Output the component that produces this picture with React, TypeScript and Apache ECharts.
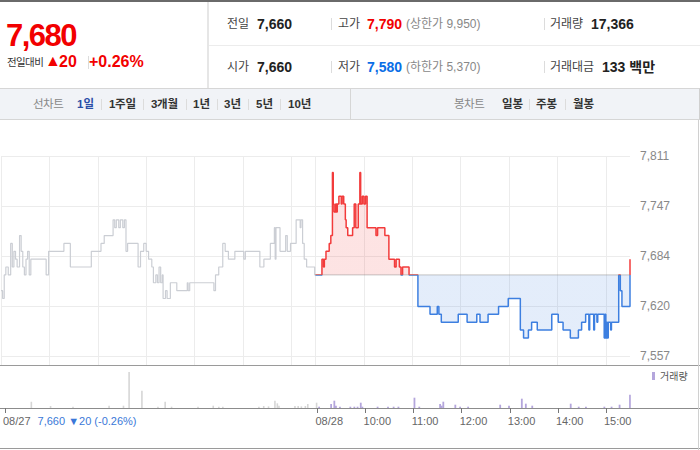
import React, { useEffect, useRef } from 'react';
import * as echarts from 'echarts';

const FONT = '"Liberation Sans", "Noto Sans CJK KR", sans-serif';

const PREV_CLOSE = 7660;
const LOWER_LIMIT = 5370;
const UPPER_LIMIT = 9950;
const Y_MIN = 7557;
const Y_MAX = 7811;
const Y_STEP = 63.5;
const MINUTES = 780; // 08/27 09:00 .. 08/28 15:30, two 390-minute sessions
const TODAY_START = 390;

// [minute index, price] — price holds until the next point
const PREV_DAY_PRICE: [number, number][] = [
  [0, 7640], [2, 7630], [4, 7660], [6, 7670], [9, 7660], [12, 7700], [14, 7670], [16, 7690],
  [18, 7680], [20, 7670], [23, 7710], [25, 7690], [27, 7670], [29, 7660], [31, 7680], [33, 7690],
  [35, 7660], [37, 7680], [56, 7660], [59, 7690], [78, 7700], [86, 7670], [112, 7690], [124, 7700],
  [128, 7710], [139, 7730], [141, 7720], [143, 7730], [146, 7720], [148, 7730], [151, 7720], [153, 7730],
  [155, 7690], [157, 7700], [170, 7670], [173, 7690], [177, 7700], [180, 7690], [183, 7680], [187, 7670],
  [189, 7650], [192, 7660], [194, 7650], [196, 7670], [198, 7650], [200, 7660], [201, 7630], [204, 7640],
  [206, 7630], [210, 7650], [218, 7640], [231, 7650], [232, 7640], [234, 7650], [264, 7640], [266, 7660],
  [270, 7670], [275, 7700], [278, 7690], [282, 7680], [290, 7690], [301, 7680], [303, 7690], [321, 7670],
  [326, 7680], [334, 7700], [339, 7720], [340, 7680], [341, 7720], [346, 7690], [353, 7710], [355, 7690],
  [359, 7700], [366, 7730], [371, 7720], [372, 7730], [374, 7700], [376, 7680], [379, 7670], [389, 7660],
  [390, 7660],
];

const TODAY_PRICE: [number, number][] = [
  [390, 7660], [398, 7680], [400, 7670], [401, 7680], [403, 7690], [407, 7700], [409, 7710], [411, 7790],
  [412, 7750], [413, 7740], [415, 7750], [416, 7740], [417, 7750], [419, 7760], [422, 7750], [423, 7760],
  [425, 7750], [427, 7730], [428, 7720], [430, 7710], [436, 7720], [438, 7750], [440, 7720], [443, 7750],
  [445, 7790], [446, 7750], [448, 7760], [450, 7750], [452, 7760], [454, 7720], [465, 7710], [467, 7720],
  [476, 7710], [481, 7680], [488, 7670], [490, 7680], [494, 7670], [496, 7660], [498, 7670], [506, 7660],
  [517, 7620], [532, 7610], [541, 7620], [543, 7610], [546, 7600], [567, 7610], [578, 7600], [590, 7610],
  [594, 7600], [604, 7610], [617, 7620], [629, 7630], [644, 7590], [648, 7580], [654, 7590], [658, 7600],
  [665, 7590], [683, 7610], [691, 7600], [697, 7590], [706, 7580], [716, 7590], [720, 7600], [725, 7610],
  [729, 7590], [730, 7610], [735, 7590], [736, 7610], [739, 7600], [740, 7610], [748, 7580], [749, 7610],
  [750, 7580], [751, 7600], [752, 7580], [753, 7600], [756, 7590], [757, 7600], [766, 7660], [768, 7640],
  [770, 7620], [780, 7680],
];

const PREV_DAY_VOLUME: [number, number][] = [
  [33, 1000], [57, 320], [85, 210], [130, 370], [148, 370], [155, 5760], [171, 2770], [191, 210],
  [200, 1000], [208, 210], [241, 210], [260, 370], [267, 210], [272, 210], [317, 210], [323, 320],
  [329, 260], [337, 1170], [340, 750], [342, 370], [362, 320], [366, 320], [370, 260], [375, 320],
  [378, 640], [389, 850],
];

const TODAY_VOLUME: [number, number][] = [
  [392, 210], [407, 640], [411, 1170], [413, 370], [418, 210], [431, 210], [436, 210], [440, 210],
  [444, 850], [446, 210], [465, 210], [478, 210], [485, 210], [491, 210], [511, 1650], [517, 210],
  [543, 640], [545, 370], [547, 1010], [562, 530], [568, 210], [578, 210], [618, 530], [629, 370],
  [645, 1490], [650, 690], [658, 370], [706, 690], [716, 210], [725, 210], [748, 210], [757, 210],
  [767, 530], [780, 2130],
];

const VOLUME_MAX = 6720;

const TICK_INDEX = [0, 390, 450, 510, 570, 630, 690, 750];
const TICK_LABEL = ['08/27', '08/28', '10:00', '11:00', '12:00', '13:00', '14:00', '15:00'];
const GRID_INDEX = [0, 60, 120, 180, 240, 300, 360, 390, 450, 510, 570, 630, 690, 750];
const PREV_SUMMARY = '7,660 ▼20 (-0.26%)';

const CATEGORIES = Array.from({ length: MINUTES + 1 }, (_, i) => String(i));

const fmt = (v: number) => Math.floor(v + 1e-6).toLocaleString('en-US');

function buildOption(): any {
  const isTick = (i: number) => TICK_INDEX.indexOf(i) >= 0;
  const isGrid = (i: number) => GRID_INDEX.indexOf(i) >= 0;
  const baseX = { type: 'category', data: CATEGORIES, boundaryGap: false };
  return {
    animation: false,
    textStyle: { fontFamily: FONT },
    grid: [
      { left: 1, right: 70, top: 36, height: 200 },
      { left: 1, right: 70, top: 246, height: 42 },
      { left: 1, right: 70, top: 36, height: 209 },
    ],
    xAxis: [
      { ...baseX, gridIndex: 0, axisLine: { show: false }, axisTick: { show: false }, axisLabel: { show: false }, splitLine: { show: false } },
      {
        ...baseX, gridIndex: 1,
        axisLine: { show: false },
        axisTick: { show: true, interval: (i: number) => isTick(i), length: 5, lineStyle: { color: '#777' } },
        axisLabel: {
          show: true,
          interval: (i: number) => isTick(i),
          formatter: (_v: string, i: number) => {
            const k = TICK_INDEX.indexOf(i);
            if (k === 0) return TICK_LABEL[0] + ' {b|' + PREV_SUMMARY + '}';
            return k >= 0 ? TICK_LABEL[k] : '';
          },
          align: 'left',
          margin: 7,
          color: '#666',
          fontSize: 11,
          padding: [0, 0, 0, -2],
          rich: { b: { color: '#3a78d8', fontSize: 11, padding: [0, 0, 0, 4] } },
        },
        splitLine: { show: false },
      },
      {
        ...baseX, gridIndex: 2, axisLine: { show: false }, axisTick: { show: false }, axisLabel: { show: false },
        splitLine: { show: true, interval: (i: number) => isGrid(i), lineStyle: { color: '#ececec', width: 1 } },
      },
    ],
    yAxis: [
      {
        type: 'value', gridIndex: 0, position: 'right', min: Y_MIN, max: Y_MAX, interval: Y_STEP,
        axisLine: { show: false }, axisTick: { show: false },
        splitLine: { lineStyle: { color: '#ececec' } },
        axisLabel: { formatter: fmt, color: '#888', fontSize: 12, margin: 10 },
      },
      { type: 'value', gridIndex: 1, min: 0, max: VOLUME_MAX, show: false, splitLine: { show: false } },
      { type: 'value', gridIndex: 2, min: 0, max: 1, show: false, splitLine: { show: false } },
    ],
    visualMap: {
      show: false, type: 'piecewise', seriesIndex: 1, dimension: 1,
      pieces: [
        { gte: LOWER_LIMIT, lte: PREV_CLOSE, color: '#3d7fe0' },
        { gt: PREV_CLOSE, lte: UPPER_LIMIT, color: '#f23b3b' },
      ],
    },
    legend: {
      data: ['거래량'], left: 652, top: 251, padding: 0, icon: 'rect', itemWidth: 3, itemHeight: 8,
      selectedMode: false, textStyle: { fontSize: 10, color: '#555' },
    },
    series: [
      {
        name: '전일', type: 'line', xAxisIndex: 0, yAxisIndex: 0, data: PREV_DAY_PRICE, step: 'end',
        symbol: 'none', silent: true, lineStyle: { color: '#cbced4', width: 1.2 }, itemStyle: { color: '#cbced4' },
      },
      {
        name: '당일', type: 'line', xAxisIndex: 0, yAxisIndex: 0, data: TODAY_PRICE, step: 'end',
        symbol: 'none', silent: true, lineStyle: { width: 1.5 },
        areaStyle: { origin: PREV_CLOSE, opacity: 0.14 },
      },
      {
        name: '기준가', type: 'line', xAxisIndex: 0, yAxisIndex: 0,
        data: [[TODAY_START, PREV_CLOSE], [MINUTES, PREV_CLOSE]],
        symbol: 'none', silent: true, z: 3,
        lineStyle: { type: 'dotted', color: '#8a8a8a', width: 1 }, itemStyle: { color: '#8a8a8a' },
      },
      {
        name: '전일거래량', type: 'bar', xAxisIndex: 1, yAxisIndex: 1, data: PREV_DAY_VOLUME,
        barWidth: 1.6, barGap: '-100%', silent: true, itemStyle: { color: '#d6d6d6' },
      },
      {
        name: '거래량', type: 'bar', xAxisIndex: 1, yAxisIndex: 1, data: TODAY_VOLUME,
        barWidth: 1.8, barGap: '-100%', silent: true, itemStyle: { color: '#b4a6dc' },
      },
    ],
    graphic: [
      { type: 'line', silent: true, shape: { x1: 0, y1: 245.5, x2: 700, y2: 245.5 }, style: { stroke: '#9a9a9a', lineWidth: 1 } },
      { type: 'line', silent: true, shape: { x1: 0, y1: 288.5, x2: 700, y2: 288.5 }, style: { stroke: '#8c8c8c', lineWidth: 1 } },
      { type: 'line', silent: true, shape: { x1: 0, y1: 328.5, x2: 700, y2: 328.5 }, style: { stroke: '#9a9a9a', lineWidth: 1 } },
      { type: 'line', silent: true, shape: { x1: 698.5, y1: 0, x2: 698.5, y2: 330 }, style: { stroke: '#d0d0d0', lineWidth: 1 } },
    ],
  };
}

type TP = { x: number; y: number; size?: number; color?: string; bold?: boolean; ls?: number; children: React.ReactNode };
const T = ({ x, y, size = 12, color = '#555', bold = false, ls = 0, children }: TP) => (
  <span style={{
    position: 'absolute', left: x, top: y - 10, height: 20, lineHeight: '20px', fontSize: size, color,
    fontWeight: bold ? 700 : 400, whiteSpace: 'nowrap', letterSpacing: ls,
  }}>{children}</span>
);
const Sep = ({ x, y, h = 12 }: { x: number; y: number; h?: number }) => (
  <div style={{ position: 'absolute', left: x, top: y - h / 2, width: 1, height: h, background: '#dcdcdc' }} />
);

export default function App() {
  const ref = useRef<HTMLDivElement>(null);
  useEffect(() => {
    document.body.style.margin = '0';
    const chart = echarts.init(ref.current as HTMLDivElement, null, { renderer: 'svg' });
    chart.setOption(buildOption());
    return () => chart.dispose();
  }, []);

  const RED = '#f20000';
  const BLUE = '#0a6ee6';
  const R1 = 24;
  const R2 = 67;
  const TB = 104;

  return (
    <div style={{ position: 'relative', width: 700, height: 450, overflow: 'hidden', background: '#fff', fontFamily: FONT }}>
      <div style={{ position: 'absolute', left: 0, top: 0, width: 700, height: 2, background: '#6a6a6a' }} />
      <span style={{
        position: 'absolute', left: 6, top: 20, fontSize: 31, lineHeight: '31px', fontWeight: 700,
        color: RED, letterSpacing: -1.5, whiteSpace: 'nowrap',
      }}>7,680</span>
      <T x={7} y={62} size={10.5} color="#333" ls={-0.6}>전일대비</T>
      <T x={45} y={61} size={16} color={RED} ls={-1}>▲</T>
      <T x={59} y={62} size={16} bold color={RED}>20</T>
      <Sep x={88} y={62} h={13} />
      <T x={89} y={62} size={16} bold color={RED}>+0.26%</T>

      <div style={{ position: 'absolute', left: 207, top: 2, width: 2, height: 86, background: '#e6e6e6' }} />
      <div style={{ position: 'absolute', left: 209, top: 45, width: 491, height: 1, background: '#ececec' }} />

      <T x={227} y={R1} size={12} color="#444">전일</T>
      <T x={257} y={R1} size={14} bold color="#222">7,660</T>
      <Sep x={331} y={R1} />
      <T x={338} y={R1} size={12} color="#444">고가</T>
      <T x={367} y={R1} size={14} bold color={RED}>7,790</T>
      <T x={406} y={R1} size={12} color="#888">(상한가 9,950)</T>
      <Sep x={544} y={R1} />
      <T x={550} y={R1} size={12} color="#444">거래량</T>
      <T x={591} y={R1} size={14} bold color="#222">17,366</T>

      <T x={227} y={R2} size={12} color="#444">시가</T>
      <T x={257} y={R2} size={14} bold color="#222">7,660</T>
      <Sep x={331} y={R2} />
      <T x={338} y={R2} size={12} color="#444">저가</T>
      <T x={367} y={R2} size={14} bold color={BLUE}>7,580</T>
      <T x={406} y={R2} size={12} color="#888">(하한가 5,370)</T>
      <Sep x={544} y={R2} />
      <T x={550} y={R2} size={12} color="#444">거래대금</T>
      <T x={602} y={R2} size={14} bold color="#222">133 백만</T>

      <div style={{
        position: 'absolute', left: 0, top: 88, width: 699, height: 30, background: '#f1f3f7',
        borderTop: '1px solid #d6d6d6', borderBottom: '1px solid #d6d6d6', borderRight: '1px solid #d0d0d0',
      }} />
      <div style={{ position: 'absolute', left: 350, top: 89, width: 1, height: 30, background: '#d6d6d6' }} />
      <T x={33} y={TB} size={11.5} color="#888" ls={-0.5}>선차트</T>
      <T x={77} y={TB} size={11.5} bold color="#2b4fa8">1일</T>
      <Sep x={101} y={TB} h={11} />
      <T x={109} y={TB} size={11.5} bold color="#333" ls={-0.3}>1주일</T>
      <Sep x={143} y={TB} h={11} />
      <T x={151} y={TB} size={11.5} bold color="#333" ls={-0.3}>3개월</T>
      <Sep x={186} y={TB} h={11} />
      <T x={193} y={TB} size={11.5} bold color="#333">1년</T>
      <Sep x={217} y={TB} h={11} />
      <T x={224} y={TB} size={11.5} bold color="#333">3년</T>
      <Sep x={248} y={TB} h={11} />
      <T x={256} y={TB} size={11.5} bold color="#333">5년</T>
      <Sep x={280} y={TB} h={11} />
      <T x={288} y={TB} size={11.5} bold color="#333">10년</T>

      <T x={454} y={TB} size={11.5} color="#888" ls={-0.5}>봉차트</T>
      <T x={502} y={TB} size={11.5} bold color="#333">일봉</T>
      <Sep x={529} y={TB} h={11} />
      <T x={536} y={TB} size={11.5} bold color="#333">주봉</T>
      <Sep x={565} y={TB} h={11} />
      <T x={573} y={TB} size={11.5} bold color="#333">월봉</T>

      <div ref={ref} style={{ position: 'absolute', left: 0, top: 120, width: 700, height: 330 }} />
    </div>
  );
}
